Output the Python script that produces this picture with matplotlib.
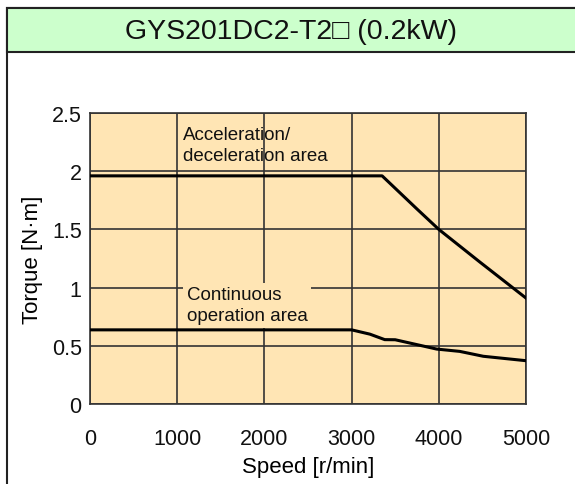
import matplotlib

matplotlib.use("Agg")
import matplotlib.pyplot as plt
from matplotlib.patches import Rectangle

plt.rcParams["font.family"] = ["Liberation Sans", "DejaVu Sans"]

PEACH = "#ffe5b4"
GREEN = "#ccffcc"
GRID = "#333333"

# ---- data ----
accel_speed = [0, 3350, 3750, 4000, 4470, 5000]
accel_torque = [1.96, 1.96, 1.675, 1.50, 1.22, 0.91]

cont_speed = [0, 3000, 3210, 3380, 3500, 3975, 4240, 4510, 5000]
cont_torque = [0.637, 0.637, 0.60, 0.553, 0.552, 0.472, 0.452, 0.41, 0.372]

x_ticks = [0, 1000, 2000, 3000, 4000, 5000]
y_ticks = [0, 0.5, 1, 1.5, 2, 2.5]
y_labels = ["0", "0.5", "1", "1.5", "2", "2.5"]

fig = plt.figure(figsize=(5.75, 4.85), dpi=100)

# outer frame + green header band
fig.patches.append(Rectangle((7 / 575, -0.05), 1, 1.05 - 9 / 485,
                             transform=fig.transFigure, facecolor="white",
                             edgecolor="#222222", linewidth=1.5, zorder=-2))
fig.patches.append(Rectangle((7 / 575, 1 - 53 / 485), 1, 44 / 485,
                             transform=fig.transFigure, facecolor=GREEN,
                             edgecolor="#222222", linewidth=1.5, zorder=-1))
fig.text(291 / 575, 1 - 32 / 485, "GYS201DC2-T2\u25a1 (0.2kW)",
         ha="center", va="center", fontsize=20.5, color="#111111",
         family=["Liberation Sans", "DejaVu Sans"])

ax = fig.add_axes([90 / 575, 1 - 405 / 485, 436 / 575, 291 / 485])
ax.set_facecolor(PEACH)
ax.set_xlim(0, 5000)
ax.set_ylim(0, 2.5)
ax.set_xticks(x_ticks)
ax.set_yticks(y_ticks)
ax.set_yticklabels(y_labels)
ax.tick_params(length=0, labelsize=15.5, colors="#111111")
ax.tick_params(axis="x", pad=17)
ax.tick_params(axis="y", pad=6)
ax.grid(True, color=GRID, linewidth=1.2)
ax.set_axisbelow(True)
for s in ax.spines.values():
    s.set_color(GRID)
    s.set_linewidth(1.2)

ax.plot(accel_speed, accel_torque, color="black", linewidth=2.2, zorder=4)
ax.plot(cont_speed, cont_torque, color="black", linewidth=2.2, zorder=4)

ax.text(1070, 2.39, "Acceleration/\ndeceleration area", ha="left", va="top",
        fontsize=13.5, color="#111111", linespacing=1.3)
ax.text(1110, 1.01, "Continuous\noperation area", ha="left", va="top",
        fontsize=13.5, color="#111111", linespacing=1.3, zorder=3,
        bbox=dict(boxstyle="square,pad=0.2", facecolor=PEACH, edgecolor="none"))

ax.set_xlabel("Speed [r/min]", fontsize=16, labelpad=5)
ax.set_ylabel("Torque [N\u00b7m]", fontsize=16, labelpad=6)

fig.savefig("out.png", dpi=100)
